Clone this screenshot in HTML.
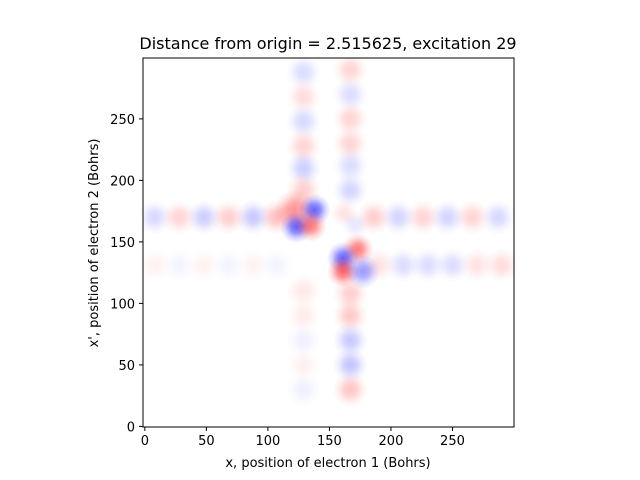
<!DOCTYPE html>
<html><head><meta charset="utf-8"><style>
body{margin:0;background:#fff;}
svg{display:block;font-family:"DejaVu Sans","Liberation Sans",sans-serif;}
</style></head><body>
<svg id="chart" width="640" height="480" viewBox="0 0 640 480">
<defs>
<radialGradient id="gr"><stop offset="0" stop-color="#ff0000" stop-opacity="0.8"/><stop offset="0.35" stop-color="#ff0000" stop-opacity="0.6"/><stop offset="0.7" stop-color="#ff0000" stop-opacity="0.2"/><stop offset="1" stop-color="#ff0000" stop-opacity="0"/></radialGradient>
<radialGradient id="gb"><stop offset="0" stop-color="#0000ff" stop-opacity="0.8"/><stop offset="0.35" stop-color="#0000ff" stop-opacity="0.6"/><stop offset="0.7" stop-color="#0000ff" stop-opacity="0.2"/><stop offset="1" stop-color="#0000ff" stop-opacity="0"/></radialGradient>
<clipPath id="clip"><rect x="143" y="58" width="371" height="369"/></clipPath>
</defs>
<text x="328" y="49" text-anchor="middle" font-size="16">Distance from origin = 2.515625, excitation 29</text>
<g id="marks" clip-path="url(#clip)"></g>
<rect x="143" y="58" width="371" height="369" fill="none" stroke="#000" stroke-width="1"/>
<g id="axes"></g>
<text x="328" y="467" text-anchor="middle" font-size="13">x, position of electron 1 (Bohrs)</text>
<text transform="translate(98,243) rotate(-90)" text-anchor="middle" font-size="13">x', position of electron 2 (Bohrs)</text>
</svg>
<script>
const xTicks=[0,50,100,150,200,250];
const yTicks=[0,50,100,150,200,250];
// blobs: centre x, centre y (Bohrs), signed amplitude, radius (Bohrs)
const blobX=[8,28,48,68,88,107, 186,206,226,246,266,287,
  8,28,48,68,88,107, 190,210,230,250,270,290,
  129,129,129,129,129,129, 129,129,129,129,129,
  167,167,167,167,167,167, 167,167,167,167,167,
  122,138,123,135,173,161,161,177,162,171];
const blobY=[170,170,170,170,170,170, 170,170,170,170,170,170,
  131,131,131,131,131,131, 131,131,131,131,131,131,
  288,268,248,228,210,192, 110,90,70,50,30,
  290,270,250,230,212,192, 108,90,70,50,30];
blobY.push(176,176,162,163,144,137,126,126,173,164);
const blobV=[-0.2,0.22,-0.25,0.25,-0.28,0.32, 0.25,-0.22,0.22,-0.22,0.22,-0.2,
  0.07,-0.06,0.07,-0.06,0.07,-0.06, 0.15,-0.18,-0.18,-0.18,0.15,0.18,
  -0.18,0.18,-0.2,0.22,-0.25,0.25, 0.12,0.1,-0.08,0.08,-0.08,
  0.22,-0.18,0.22,0.22,-0.18,-0.22, 0.25,0.28,-0.28,-0.3,0.3,
  0.55,-0.75,-0.75,0.65,0.65,-0.75,0.75,-0.5,0.15,-0.12];
const blobR=[11,11,11,11,11,11, 11,11,11,11,11,11,
  11,11,11,11,11,11, 11,11,11,11,11,11,
  11,11,11,11,11,11, 11,11,11,11,11,
  11,11,11,11,11,11, 11,11,11,11,11,
  13,10,10,10,10,10,10,11,9,9];
const x0=-1.5,x1=300,px0=143,px1=514;
const y0=-0.5,y1=299.5,py0=427,py1=58;
function sx(v){return px0+(v-x0)/(x1-x0)*(px1-px0);}
function sy(v){return py0+(v-y0)/(y1-y0)*(py1-py0);}
const NS="http://www.w3.org/2000/svg";
const g=document.getElementById('marks');
for(let i=0;i<blobX.length;i++){
  const e=document.createElementNS(NS,'ellipse');
  
  
  const r=blobR[i];
  e.setAttribute('cx',sx(blobX[i]));e.setAttribute('cy',sy(blobY[i]));
  e.setAttribute('rx',r*1.228*1.3);e.setAttribute('ry',r*1.232*1.3);
  e.setAttribute('fill',blobV[i]>0?'url(#gr)':'url(#gb)');
  e.setAttribute('fill-opacity',Math.min(1,Math.abs(blobV[i])));
  g.appendChild(e);
}
const ax=document.getElementById('axes');
xTicks.forEach(t=>{
  const l=document.createElementNS(NS,'line');
  
  
  l.setAttribute('x1',sx(t));l.setAttribute('x2',sx(t));l.setAttribute('y1',427);l.setAttribute('y2',431);l.setAttribute('stroke','#000');
  ax.appendChild(l);
  const tx=document.createElementNS(NS,'text');
  
  
  tx.setAttribute('x',sx(t));tx.setAttribute('y',445);tx.setAttribute('text-anchor','middle');tx.setAttribute('font-size','13');
  tx.textContent=t;ax.appendChild(tx);
});
yTicks.forEach(t=>{
  const l=document.createElementNS(NS,'line');
  
  
  l.setAttribute('x1',139);l.setAttribute('x2',143);l.setAttribute('y1',sy(t));l.setAttribute('y2',sy(t));l.setAttribute('stroke','#000');
  ax.appendChild(l);
  const tx=document.createElementNS(NS,'text');
  
  
  tx.setAttribute('x',135);tx.setAttribute('y',sy(t)+5);tx.setAttribute('text-anchor','end');tx.setAttribute('font-size','13');
  tx.textContent=t;ax.appendChild(tx);
});
</script>
</body></html>
